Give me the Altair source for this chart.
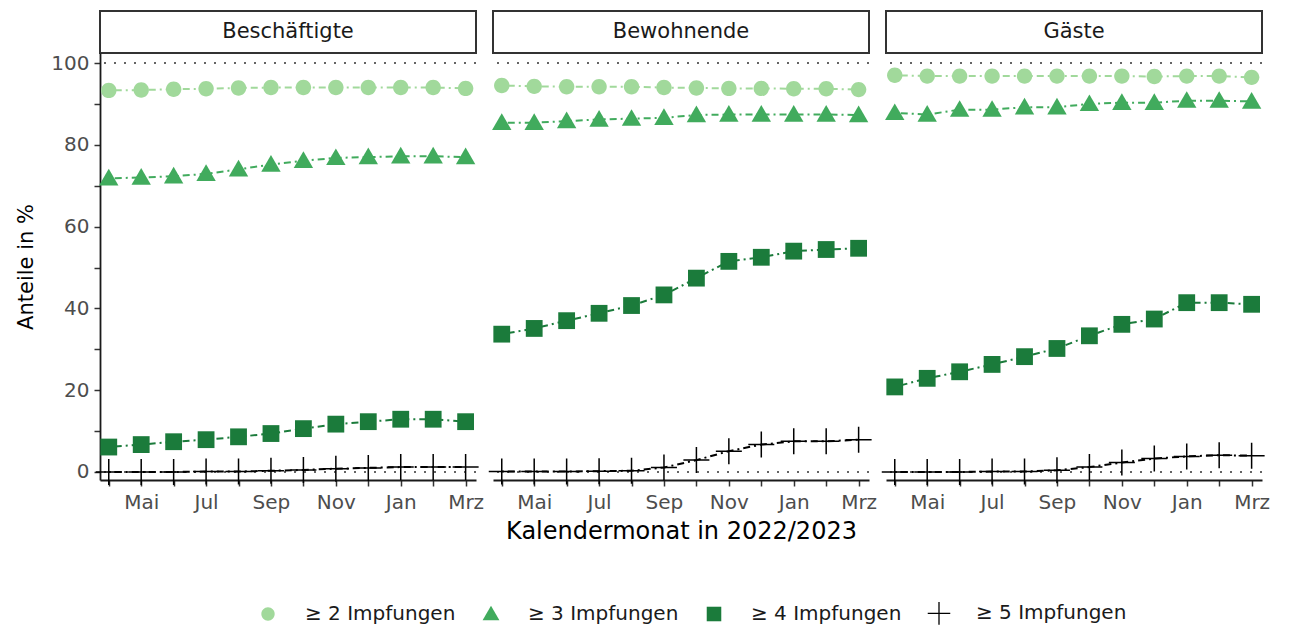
import altair as alt
import pandas as pd

# ---------------- data ----------------
months = ["Apr", "Mai", "Jun", "Jul", "Aug", "Sep", "Okt", "Nov", "Dez", "Jan", "Feb", "Mrz"]
groups = ["Beschäftigte", "Bewohnende", "Gäste"]
series = ["≥ 2 Impfungen", "≥ 3 Impfungen", "≥ 4 Impfungen", "≥ 5 Impfungen"]

besch_2 = [93.3, 93.4, 93.6, 93.7, 93.9, 94.0, 94.0, 94.0, 94.0, 94.0, 94.0, 93.8]
besch_3 = [71.8, 72.0, 72.3, 72.9, 74.0, 75.2, 76.1, 76.8, 77.0, 77.2, 77.2, 77.0]
besch_4 = [6.1, 6.7, 7.4, 7.9, 8.6, 9.4, 10.6, 11.7, 12.3, 12.9, 12.9, 12.3]
besch_5 = [0.0, 0.0, 0.0, 0.1, 0.1, 0.3, 0.5, 0.8, 1.0, 1.2, 1.2, 1.2]

bew_2 = [94.5, 94.3, 94.2, 94.2, 94.2, 94.0, 93.9, 93.8, 93.8, 93.7, 93.7, 93.5]
bew_3 = [85.4, 85.4, 85.8, 86.2, 86.4, 86.6, 87.3, 87.4, 87.4, 87.4, 87.4, 87.3]
bew_4 = [33.7, 35.1, 37.0, 38.8, 40.7, 43.3, 47.4, 51.5, 52.5, 54.0, 54.4, 54.7]
bew_5 = [0.1, 0.1, 0.1, 0.2, 0.3, 1.1, 2.9, 5.1, 6.7, 7.5, 7.5, 7.9]

gae_2 = [97.0, 96.8, 96.8, 96.8, 96.8, 96.8, 96.8, 96.8, 96.7, 96.8, 96.8, 96.5]
gae_3 = [87.8, 87.4, 88.6, 88.6, 89.2, 89.2, 90.0, 90.3, 90.3, 90.8, 90.8, 90.6]
gae_4 = [20.8, 22.9, 24.5, 26.3, 28.2, 30.2, 33.3, 36.1, 37.4, 41.4, 41.4, 41.0]
gae_5 = [0.0, 0.0, 0.0, 0.1, 0.1, 0.4, 1.2, 2.3, 3.3, 3.8, 4.1, 4.0]

ref_lines = [0, 100]

group_values = {
    "Beschäftigte": [besch_2, besch_3, besch_4, besch_5],
    "Bewohnende": [bew_2, bew_3, bew_4, bew_5],
    "Gäste": [gae_2, gae_3, gae_4, gae_5],
}

rows = []
for g in groups:
    for s, arr in zip(series, group_values[g]):
        for i, v in enumerate(arr):
            rows.append({"gruppe": g, "serie": s, "monat": i, "wert": v})
df = pd.DataFrame(rows)

# ---------------- styling ----------------
FONT = "DejaVu Sans"
colors = ["#a1d99b", "#41ab5d", "#1b7b3b", "#000000"]
shape_paths = [
    "M0.77,0A0.77,0.77 0 1,1 -0.77,0A0.77,0.77 0 1,1 0.77,0Z",
    "M0,-0.95L0.97,0.72L-0.97,0.72Z",
    "M-0.84,-0.84H0.84V0.84H-0.84Z",
    "M-1.3,-0.075H1.3V0.075H-1.3Z M-0.075,-1.3H0.075V1.3H-0.075Z",
]

W, H, SH = 376, 427, 42
x_dom = [-0.27, 11.32]
y_dom = [-1.96, 102.45]

month_arr = "[" + ",".join("'" + m + "'" for m in months) + "]"
x_label_expr = "datum.value % 2 == 1 ? " + month_arr + "[datum.value] : ''"

legend = alt.Legend(
    title=None, orient="none", legendX=158, legendY=592,
    direction="horizontal", columns=4,
    labelFont=FONT, labelFontSize=20, labelColor="#1a1a1a",
    symbolSize=300, symbolStrokeWidth=0, labelOffset=27, columnPadding=25,
)


def panel(g, idx):
    d = df[df.gruppe == g]
    x_axis = alt.Axis(
        values=list(range(12)), labelExpr=x_label_expr,
        title="Kalendermonat in 2022/2023" if idx == 1 else None,
        grid=False, tickSize=6, labelPadding=6,
    )
    if idx == 0:
        y_axis = alt.Axis(
            values=list(range(0, 101, 10)),
            labelExpr="datum.value % 20 == 0 ? datum.value : ''",
            title="Anteile in %", grid=False, tickSize=6, labelPadding=5,
            titlePadding=14,
        )
    else:
        y_axis = None

    xs = alt.Scale(domain=x_dom, nice=False, zero=False)
    ys = alt.Scale(domain=y_dom, nice=False, zero=False)

    rules = alt.Chart(pd.DataFrame({"ref": ref_lines})).mark_rule(
        strokeDash=[2, 8], color="#333333", strokeWidth=1.5
    ).encode(y=alt.Y("ref:Q", scale=ys, axis=y_axis))

    layers = [rules]
    for s, c in zip(series, colors):
        layers.append(
            alt.Chart(d[d.serie == s]).mark_line(
                strokeWidth=2, strokeDash=[2, 4, 7, 4], color=c
            ).encode(
                x=alt.X("monat:Q", scale=xs, axis=x_axis),
                y=alt.Y("wert:Q", scale=ys, axis=y_axis),
            )
        )
    points = alt.Chart(d).mark_point(filled=True, opacity=1, size=400, strokeWidth=0).encode(
        x=alt.X("monat:Q", scale=xs, axis=x_axis),
        y=alt.Y("wert:Q", scale=ys, axis=y_axis),
        color=alt.Color("serie:N", scale=alt.Scale(domain=series, range=colors), legend=legend),
        shape=alt.Shape("serie:N", scale=alt.Scale(domain=series, range=shape_paths), legend=legend),
    )
    layers.append(points)
    plot = alt.layer(*layers).properties(width=W, height=H)

    strip = alt.Chart(pd.DataFrame({"gruppe": [g]})).mark_text(
        font=FONT, fontSize=21, color="#1a1a1a"
    ).encode(
        text="gruppe:N", x=alt.value(W / 2), y=alt.value(SH / 2)
    ).properties(
        width=W, height=SH,
        view=alt.ViewBackground(stroke="#333333", strokeWidth=2, strokeOpacity=1, fill="white"),
    )
    return alt.vconcat(strip, plot, spacing=0, bounds="flush")


chart = alt.hconcat(
    *[panel(g, i) for i, g in enumerate(groups)], spacing=4
).properties(
    padding={"left": 7, "top": 2, "right": 5, "bottom": 0}
).configure(font=FONT).configure_view(
    strokeWidth=0, strokeOpacity=0
).configure_axis(
    domainColor="#1a1a1a", domainWidth=1.8, tickColor="#333333", tickWidth=1.5,
    labelFont=FONT, labelFontSize=20, labelColor="#4d4d4d",
    titleFont=FONT, titleFontWeight="normal", titleColor="#000000",
).configure_axisX(titleFontSize=24, titlePadding=7).configure_axisY(titleFontSize=21)

chart.save("out.html", embed_options={"renderer": "svg", "actions": False})
